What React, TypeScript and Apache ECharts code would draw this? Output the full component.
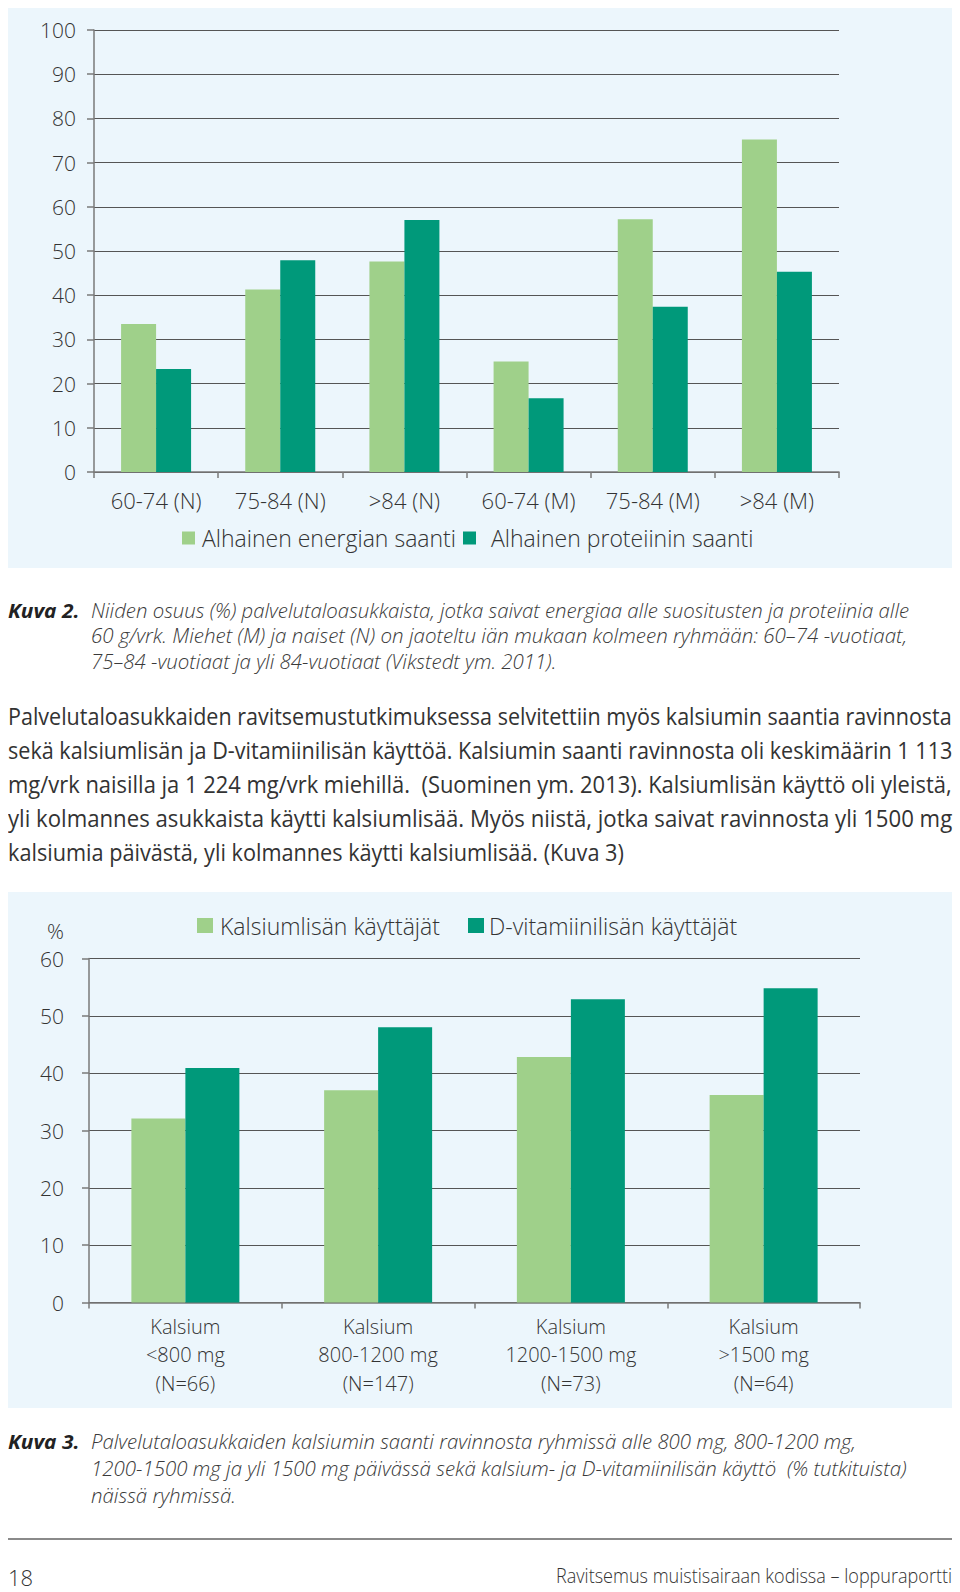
import React, { useEffect, useLayoutEffect, useRef, useState } from "react";
import * as echarts from "echarts";

// ---- Chart 1 (Kuva 2) data ----
const ageGroups = ["60-74 (N)", "75-84 (N)", ">84 (N)", "60-74 (M)", "75-84 (M)", ">84 (M)"];
const lowEnergy = [33.5, 41.3, 47.6, 25.0, 57.2, 75.2];
const lowProtein = [23.3, 47.9, 57.0, 16.7, 37.4, 45.3];
const seriesNames1 = ["Alhainen energian saanti", "Alhainen proteiinin saanti"];

// ---- Chart 2 (Kuva 3) data ----
const calciumGroups = [
  "Kalsium\n<800 mg\n(N=66)",
  "Kalsium\n800-1200 mg\n(N=147)",
  "Kalsium\n1200-1500 mg\n(N=73)",
  "Kalsium\n>1500 mg\n(N=64)",
];
const calciumUsers = [32.1, 37.0, 42.8, 36.2];
const vitaminDUsers = [40.9, 48.0, 52.9, 54.8];
const seriesNames2 = ["Kalsiumlisän käyttäjät", "D-vitamiinilisän käyttäjät"];

const LIGHT = "#9fd08a";
const DARK = "#00997a";
const PANEL = "#ecf6fc";
const FONT = "'Open Sans', sans-serif";

const caption2 = [
  "Niiden osuus (%) palvelutaloasukkaista, jotka saivat energiaa alle suositusten ja proteiinia alle",
  "60 g/vrk. Miehet (M) ja naiset (N) on jaoteltu iän mukaan kolmeen ryhmään: 60–74 -vuotiaat,",
  "75–84 -vuotiaat ja yli 84-vuotiaat (Vikstedt ym. 2011).",
];
const caption2Widths = [818, 816, 465];
const paragraph = [
  "Palvelutaloasukkaiden ravitsemustutkimuksessa selvitettiin myös kalsiumin saantia ravinnosta",
  "sekä kalsiumlisän ja D-vitamiinilisän käyttöä. Kalsiumin saanti ravinnosta oli keskimäärin 1 113",
  "mg/vrk naisilla ja 1 224 mg/vrk miehillä.  (Suominen ym. 2013). Kalsiumlisän käyttö oli yleistä,",
  "yli kolmannes asukkaista käytti kalsiumlisää. Myös niistä, jotka saivat ravinnosta yli 1500 mg",
  "kalsiumia päivästä, yli kolmannes käytti kalsiumlisää. (Kuva 3)",
];
const paragraphWidths = [944, 944, 944, 944, 616];
const caption3 = [
  "Palvelutaloasukkaiden kalsiumin saanti ravinnosta ryhmissä alle 800 mg, 800-1200 mg,",
  "1200-1500 mg ja yli 1500 mg päivässä sekä kalsium- ja D-vitamiinilisän käyttö  (% tutkituista)",
  "näissä ryhmissä.",
];
const caption3Widths = [765, 816, 145];

function ChartArea() {
  const ref = useRef<HTMLDivElement>(null);
  useEffect(() => {
    if (!ref.current) return;
    const chart = echarts.init(ref.current, null, { renderer: "svg" });
    const labelStyle = { color: "#333", fontFamily: FONT, fontWeight: 300 };
    const axisLine = { show: true, lineStyle: { color: "#7a7a7a", width: 1.5 } };
    const yTick = { show: true, length: 7, lineStyle: { color: "#7a7a7a", width: 1.5 } };
    const xTick = { show: true, length: 6, lineStyle: { color: "#7a7a7a", width: 1.5 } };
    const splitLine = { show: true, lineStyle: { color: "#555", width: 1 } };
    const legendBase = {
      padding: 0,
      icon: "rect",
      textStyle: { ...labelStyle, fontSize: 23, lineHeight: 24 },
    };
    chart.setOption({
      animation: false,
      backgroundColor: "transparent",
      grid: [
        { left: 94, top: 30, width: 745, height: 442 },
        { left: 89, top: 958.5, width: 771, height: 344 },
      ],
      xAxis: [
        {
          type: "category",
          gridIndex: 0,
          data: ageGroups,
          axisLine,
          axisTick: xTick,
          axisLabel: { ...labelStyle, fontSize: 22, lineHeight: 26, margin: 15, interval: 0 },
        },
        {
          type: "category",
          gridIndex: 1,
          data: calciumGroups,
          axisLine,
          axisTick: xTick,
          axisLabel: { ...labelStyle, fontSize: 20, lineHeight: 28.3, margin: 10, interval: 0 },
        },
      ],
      yAxis: [
        {
          type: "value",
          gridIndex: 0,
          min: 0,
          max: 100,
          interval: 10,
          axisLine,
          axisTick: yTick,
          splitLine,
          axisLabel: { ...labelStyle, fontSize: 21, margin: 18 },
        },
        {
          type: "value",
          gridIndex: 1,
          min: 0,
          max: 60,
          interval: 10,
          axisLine,
          axisTick: yTick,
          splitLine,
          axisLabel: { ...labelStyle, fontSize: 21, margin: 25 },
        },
      ],
      legend: [
        {
          ...legendBase,
          data: [seriesNames1[0]],
          left: 182,
          top: 526,
          itemWidth: 13,
          itemHeight: 13,
          textStyle: { ...legendBase.textStyle, padding: [0, 0, 0, 2] },
        },
        {
          ...legendBase,
          data: [seriesNames1[1]],
          left: 463,
          top: 526,
          itemWidth: 13,
          itemHeight: 13,
          textStyle: { ...legendBase.textStyle, padding: [0, 0, 0, 10] },
        },
        {
          ...legendBase,
          data: [seriesNames2[0]],
          left: 197,
          top: 913.5,
          itemWidth: 16,
          itemHeight: 15,
          textStyle: { ...legendBase.textStyle, padding: [0, 0, 0, 2] },
        },
        {
          ...legendBase,
          data: [seriesNames2[1]],
          left: 468,
          top: 913.5,
          itemWidth: 16,
          itemHeight: 15,
          textStyle: { ...legendBase.textStyle, padding: [0, 0, 0, 0] },
        },
      ],
      graphic: [
        {
          type: "text",
          left: 47,
          top: 920,
          style: { text: "%", fontSize: 21, fill: "#333", fontFamily: FONT, fontWeight: 300 },
        },
      ],
      series: [
        {
          type: "bar",
          name: seriesNames1[0],
          xAxisIndex: 0,
          yAxisIndex: 0,
          data: lowEnergy,
          barWidth: 35,
          barGap: "0%",
          itemStyle: { color: LIGHT },
        },
        {
          type: "bar",
          name: seriesNames1[1],
          xAxisIndex: 0,
          yAxisIndex: 0,
          data: lowProtein,
          barWidth: 35,
          barGap: "0%",
          itemStyle: { color: DARK },
        },
        {
          type: "bar",
          name: seriesNames2[0],
          xAxisIndex: 1,
          yAxisIndex: 1,
          data: calciumUsers,
          barWidth: 54,
          barGap: "0%",
          itemStyle: { color: LIGHT },
        },
        {
          type: "bar",
          name: seriesNames2[1],
          xAxisIndex: 1,
          yAxisIndex: 1,
          data: vitaminDUsers,
          barWidth: 54,
          barGap: "0%",
          itemStyle: { color: DARK },
        },
      ],
    });
    return () => chart.dispose();
  }, []);
  return (
    <div
      ref={ref}
      style={{ position: "absolute", left: 0, top: 0, width: 960, height: 1592, zIndex: 1 }}
    />
  );
}

// A single line of text squeezed horizontally to a target width (to imitate a condensed face).
function FitLine(props: {
  text: string;
  left: number;
  top: number;
  width: number;
  style: React.CSSProperties;
}) {
  const { text, left, top, width, style } = props;
  const ref = useRef<HTMLSpanElement>(null);
  const [s, setS] = useState(1);
  useLayoutEffect(() => {
    if (ref.current) {
      const w = ref.current.offsetWidth;
      if (w > 0) setS(width / w);
    }
  }, [text, width]);
  return (
    <div style={{ position: "absolute", left, top, whiteSpace: "pre", fontFamily: FONT, ...style }}>
      <span
        ref={ref}
        style={{ display: "inline-block", transform: `scaleX(${s})`, transformOrigin: "0 0" }}
      >
        {text}
      </span>
    </div>
  );
}

export default function App() {
  const capStyle: React.CSSProperties = { fontSize: 20, lineHeight: "25.4px", fontStyle: "italic", color: "#3a3a3a", fontWeight: 300 };
  const cap3Style: React.CSSProperties = { ...capStyle, lineHeight: "27px" };
  const kuvaStyle: React.CSSProperties = { fontSize: 20, fontWeight: 700, fontStyle: "italic", color: "#222" };
  const paraStyle: React.CSSProperties = { fontSize: 23, lineHeight: "33.8px", color: "#333" };
  return (
    <div
      style={{
        position: "absolute",
        left: 0,
        top: 0,
        width: 960,
        height: 1592,
        overflow: "hidden",
        background: "#fff",
      }}
    >
      <div style={{ position: "absolute", left: 8, top: 8, width: 944, height: 560, background: PANEL }} />
      <div style={{ position: "absolute", left: 8, top: 892, width: 944, height: 516, background: PANEL }} />

      {/* Kuva 2 caption */}
      <FitLine text="Kuva 2." left={8} top={598} width={71} style={{ ...kuvaStyle, lineHeight: "25.4px" }} />
      {caption2.map((t, i) => (
        <FitLine key={"c2" + i} text={t} left={91} top={598 + i * 25.4} width={caption2Widths[i]} style={capStyle} />
      ))}

      {/* Paragraph */}
      {paragraph.map((t, i) => (
        <FitLine key={"p" + i} text={t} left={8} top={700.4 + i * 33.8} width={paragraphWidths[i]} style={paraStyle} />
      ))}

      {/* Kuva 3 caption */}
      <FitLine text="Kuva 3." left={8} top={1427.5} width={71} style={{ ...kuvaStyle, lineHeight: "27px" }} />
      {caption3.map((t, i) => (
        <FitLine key={"c3" + i} text={t} left={91} top={1427.5 + i * 27} width={caption3Widths[i]} style={cap3Style} />
      ))}

      {/* Footer */}
      <div style={{ position: "absolute", left: 8, top: 1538, width: 944, height: 2, background: "#8a8a8a" }} />
      <div style={{ position: "absolute", left: 8, top: 1566, fontSize: 22, lineHeight: "23px", color: "#333", fontFamily: FONT, fontWeight: 300, whiteSpace: "pre" }}>
        18
      </div>
      <FitLine
        text="Ravitsemus muistisairaan kodissa – loppuraportti"
        left={556}
        top={1564}
        width={396}
        style={{ fontSize: 21, lineHeight: "22px", color: "#333", fontWeight: 300 }}
      />

      <ChartArea />
    </div>
  );
}
